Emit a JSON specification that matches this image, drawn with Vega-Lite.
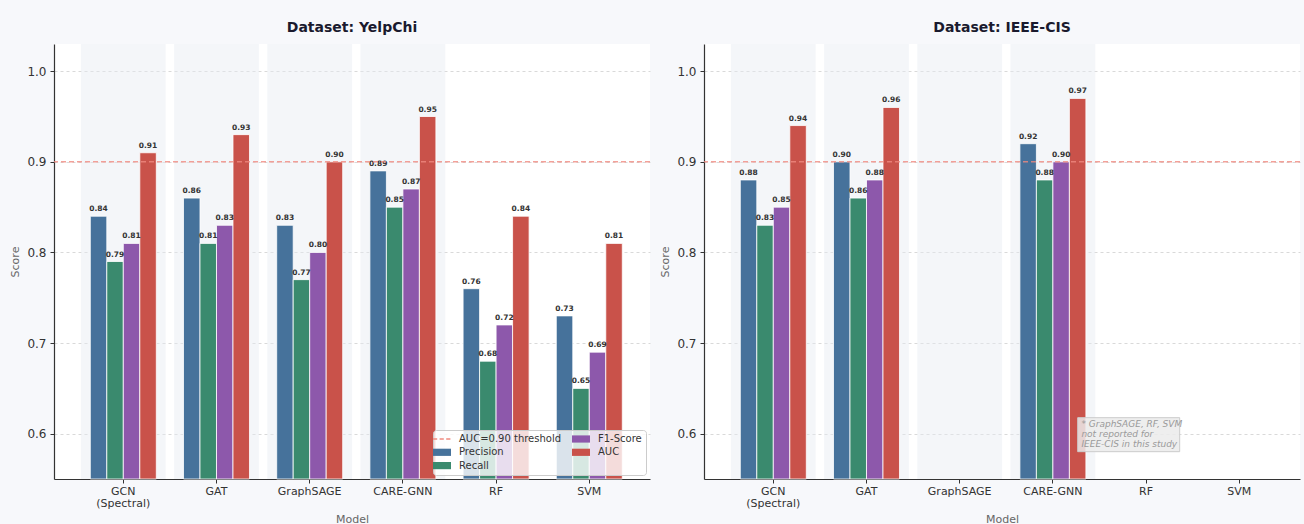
{
  "$schema": "https://vega.github.io/schema/vega-lite/v6.json",
  "background": "#f7f8fb",
  "padding": {"left": 9, "top": 21, "right": 4, "bottom": 0},
  "spacing": 8,
  "config": {
    "font": "DejaVu Sans",
    "view": {"stroke": null, "fill": "white"},
    "axis": {"domainColor": "#333333", "domainWidth": 1.2, "tickColor": "#333333", "labelColor": "#333333", "titleColor": "#666666", "titleFontWeight": "normal", "gridColor": "#cfcfcf", "gridDash": [3, 3], "gridOpacity": 0.8}
  },
  "datasets": {
    "scores": [
      {"dataset": "YelpChi", "model": "GCN (Spectral)", "metric": "Precision", "score": 0.84},
      {"dataset": "YelpChi", "model": "GCN (Spectral)", "metric": "Recall", "score": 0.79},
      {"dataset": "YelpChi", "model": "GCN (Spectral)", "metric": "F1-Score", "score": 0.81},
      {"dataset": "YelpChi", "model": "GCN (Spectral)", "metric": "AUC", "score": 0.91},
      {"dataset": "YelpChi", "model": "GAT", "metric": "Precision", "score": 0.86},
      {"dataset": "YelpChi", "model": "GAT", "metric": "Recall", "score": 0.81},
      {"dataset": "YelpChi", "model": "GAT", "metric": "F1-Score", "score": 0.83},
      {"dataset": "YelpChi", "model": "GAT", "metric": "AUC", "score": 0.93},
      {"dataset": "YelpChi", "model": "GraphSAGE", "metric": "Precision", "score": 0.83},
      {"dataset": "YelpChi", "model": "GraphSAGE", "metric": "Recall", "score": 0.77},
      {"dataset": "YelpChi", "model": "GraphSAGE", "metric": "F1-Score", "score": 0.80},
      {"dataset": "YelpChi", "model": "GraphSAGE", "metric": "AUC", "score": 0.90},
      {"dataset": "YelpChi", "model": "CARE-GNN", "metric": "Precision", "score": 0.89},
      {"dataset": "YelpChi", "model": "CARE-GNN", "metric": "Recall", "score": 0.85},
      {"dataset": "YelpChi", "model": "CARE-GNN", "metric": "F1-Score", "score": 0.87},
      {"dataset": "YelpChi", "model": "CARE-GNN", "metric": "AUC", "score": 0.95},
      {"dataset": "YelpChi", "model": "RF", "metric": "Precision", "score": 0.76},
      {"dataset": "YelpChi", "model": "RF", "metric": "Recall", "score": 0.68},
      {"dataset": "YelpChi", "model": "RF", "metric": "F1-Score", "score": 0.72},
      {"dataset": "YelpChi", "model": "RF", "metric": "AUC", "score": 0.84},
      {"dataset": "YelpChi", "model": "SVM", "metric": "Precision", "score": 0.73},
      {"dataset": "YelpChi", "model": "SVM", "metric": "Recall", "score": 0.65},
      {"dataset": "YelpChi", "model": "SVM", "metric": "F1-Score", "score": 0.69},
      {"dataset": "YelpChi", "model": "SVM", "metric": "AUC", "score": 0.81},
      {"dataset": "IEEE-CIS", "model": "GCN (Spectral)", "metric": "Precision", "score": 0.88},
      {"dataset": "IEEE-CIS", "model": "GCN (Spectral)", "metric": "Recall", "score": 0.83},
      {"dataset": "IEEE-CIS", "model": "GCN (Spectral)", "metric": "F1-Score", "score": 0.85},
      {"dataset": "IEEE-CIS", "model": "GCN (Spectral)", "metric": "AUC", "score": 0.94},
      {"dataset": "IEEE-CIS", "model": "GAT", "metric": "Precision", "score": 0.90},
      {"dataset": "IEEE-CIS", "model": "GAT", "metric": "Recall", "score": 0.86},
      {"dataset": "IEEE-CIS", "model": "GAT", "metric": "F1-Score", "score": 0.88},
      {"dataset": "IEEE-CIS", "model": "GAT", "metric": "AUC", "score": 0.96},
      {"dataset": "IEEE-CIS", "model": "CARE-GNN", "metric": "Precision", "score": 0.92},
      {"dataset": "IEEE-CIS", "model": "CARE-GNN", "metric": "Recall", "score": 0.88},
      {"dataset": "IEEE-CIS", "model": "CARE-GNN", "metric": "F1-Score", "score": 0.90},
      {"dataset": "IEEE-CIS", "model": "CARE-GNN", "metric": "AUC", "score": 0.97}
    ],
    "models": [
      {"model": "GCN (Spectral)", "family": "GNN"},
      {"model": "GAT", "family": "GNN"},
      {"model": "GraphSAGE", "family": "GNN"},
      {"model": "CARE-GNN", "family": "GNN"},
      {"model": "RF", "family": "Classical"},
      {"model": "SVM", "family": "Classical"}
    ],
    "threshold": [
      {"metric": "AUC=0.90 threshold", "score": 0.9}
    ],
    "notes": [
      {"dataset": "IEEE-CIS", "note": "GraphSAGE, RF, SVM not reported"}
    ]
  },
  "resolve": {"scale": {"color": "independent", "shape": "independent"}, "legend": {"color": "independent", "shape": "independent"}},
  "hconcat": [
    {
      "width": 596,
      "height": 435,
      "title": {"text": "Dataset: YelpChi", "fontSize": 14, "fontWeight": "bold", "color": "#1a1a2e", "offset": 9},
      "resolve": {"scale": {"color": "independent", "shape": "independent"}, "legend": {"color": "independent", "shape": "independent"}},
      "layer": [
        {
          "data": {"name": "models"},
          "transform": [{"filter": "datum.family === 'GNN'"}],
          "mark": {"type": "bar", "color": "#e6eaf1", "opacity": 0.45},
          "encoding": {
            "x": {"field": "model", "type": "nominal", "title": "Model",
              "scale": {"domain": ["GCN (Spectral)", "GAT", "GraphSAGE", "CARE-GNN", "RF", "SVM"], "paddingInner": 0.09, "paddingOuter": 0.2425, "align": 0.595},
              "axis": {"labelExpr": "datum.label === 'GCN (Spectral)' ? ['GCN', '(Spectral)'] : datum.label", "labelAngle": 0, "labelFontSize": 11, "labelLineHeight": 12.5, "tickSize": 4, "labelPadding": 2, "titleFontSize": 11, "titlePadding": 5, "grid": false}},
            "y": {"datum": 1.03, "type": "quantitative", "title": "Score",
              "scale": {"domain": [0.55, 1.03], "zero": false, "nice": false},
              "axis": {"values": [0.6, 0.7, 0.8, 0.9, 1.0], "format": ".1f", "labelFontSize": 12, "tickSize": 4, "labelPadding": 4, "titleFontSize": 11, "titlePadding": 6, "grid": true}},
            "y2": {"datum": 0.55}
          }
        },
        {
          "data": {"name": "scores"},
          "transform": [{"filter": "datum.dataset === 'YelpChi'"}],
          "mark": {"type": "bar", "stroke": "white", "strokeWidth": 0.8},
          "encoding": {
            "x": {"field": "model", "type": "nominal", "title": "Model"},
            "xOffset": {"field": "metric", "type": "nominal", "scale": {"domain": ["Precision", "Recall", "F1-Score", "AUC"], "paddingInner": 0, "paddingOuter": 0.57}},
            "y": {"field": "score", "type": "quantitative", "title": "Score"},
            "y2": {"datum": 0.55},
            "color": {"field": "metric", "type": "nominal",
              "scale": {"domain": ["Precision", "Recall", "F1-Score", "AUC"], "range": ["#46729b", "#3a8a6e", "#8d58ab", "#c9524a"]},
              "legend": null}
          }
        },
        {
          "data": {"name": "scores"},
          "transform": [{"filter": "datum.dataset === 'YelpChi'"}],
          "mark": {"type": "text", "fontSize": 7.5, "fontWeight": "bold", "color": "#333333", "baseline": "middle", "dy": -7},
          "encoding": {
            "x": {"field": "model", "type": "nominal", "title": "Model"},
            "xOffset": {"field": "metric", "type": "nominal"},
            "y": {"field": "score", "type": "quantitative", "title": "Score"},
            "text": {"field": "score", "type": "quantitative", "format": ".2f"}
          }
        },
        {
          "data": {"name": "threshold"},
          "mark": {"type": "rule", "strokeDash": [5, 3], "strokeWidth": 1.5, "opacity": 0.8, "color": "#f08a80"},
          "encoding": {
            "y": {"field": "score", "type": "quantitative", "title": "Score"}
          }
        },
        {
          "data": {"name": "scores"},
          "transform": [{"filter": "datum.dataset === 'YelpChi'"}],
          "mark": {"type": "point", "filled": true, "opacity": 1, "clip": true, "strokeWidth": 0},
          "encoding": {
            "x": {"field": "model", "type": "nominal", "title": "Model"},
            "y": {"datum": 0.4, "type": "quantitative", "title": "Score"},
            "color": {"field": "metric", "type": "nominal",
              "scale": {"domain": ["AUC=0.90 threshold", "Precision", "Recall", "F1-Score", "AUC"], "range": ["#f08a80", "#46729b", "#3a8a6e", "#8d58ab", "#c9524a"]},
              "legend": {"title": null, "orient": "bottom-right", "offset": 4, "columns": 2, "columnPadding": 10, "rowPadding": 3.3, "labelFontSize": 10, "labelColor": "#333333", "labelOffset": 12, "symbolSize": 64, "symbolStrokeWidth": 0, "symbolOpacity": 1, "padding": 4, "fillColor": "rgba(255,255,255,0.8)", "strokeColor": "#cccccc", "cornerRadius": 3}},
            "shape": {"field": "metric", "type": "nominal",
              "scale": {"domain": ["AUC=0.90 threshold", "Precision", "Recall", "F1-Score", "AUC"], "range": [
                "M-2.25,-0.2H-1.2V0.2H-2.25Z M-0.6,-0.2H0.45V0.2H-0.6Z M1.05,-0.2H2.1V0.2H1.05Z",
                "M-2.25,-0.9H2.25V0.9H-2.25Z",
                "M-2.25,-0.9H2.25V0.9H-2.25Z",
                "M-2.25,-0.9H2.25V0.9H-2.25Z",
                "M-2.25,-0.9H2.25V0.9H-2.25Z"]},
              "legend": {"title": null, "orient": "bottom-right", "offset": 4, "columns": 2, "columnPadding": 10, "rowPadding": 3.3, "labelFontSize": 10, "labelColor": "#333333", "labelOffset": 12, "symbolSize": 64, "symbolStrokeWidth": 0, "symbolOpacity": 1, "padding": 4, "fillColor": "rgba(255,255,255,0.8)", "strokeColor": "#cccccc", "cornerRadius": 3}}
          }
        }
      ]
    },
    {
      "width": 596,
      "height": 435,
      "title": {"text": "Dataset: IEEE-CIS", "fontSize": 14, "fontWeight": "bold", "color": "#1a1a2e", "offset": 9},
      "layer": [
        {
          "data": {"name": "models"},
          "transform": [{"filter": "datum.family === 'GNN'"}],
          "mark": {"type": "bar", "color": "#e6eaf1", "opacity": 0.45},
          "encoding": {
            "x": {"field": "model", "type": "nominal", "title": "Model",
              "scale": {"domain": ["GCN (Spectral)", "GAT", "GraphSAGE", "CARE-GNN", "RF", "SVM"], "paddingInner": 0.09, "paddingOuter": 0.2425, "align": 0.595},
              "axis": {"labelExpr": "datum.label === 'GCN (Spectral)' ? ['GCN', '(Spectral)'] : datum.label", "labelAngle": 0, "labelFontSize": 11, "labelLineHeight": 12.5, "tickSize": 4, "labelPadding": 2, "titleFontSize": 11, "titlePadding": 5, "grid": false}},
            "y": {"datum": 1.03, "type": "quantitative", "title": "Score",
              "scale": {"domain": [0.55, 1.03], "zero": false, "nice": false},
              "axis": {"values": [0.6, 0.7, 0.8, 0.9, 1.0], "format": ".1f", "labelFontSize": 12, "tickSize": 4, "labelPadding": 4, "titleFontSize": 11, "titlePadding": 6, "grid": true}},
            "y2": {"datum": 0.55}
          }
        },
        {
          "data": {"name": "scores"},
          "transform": [{"filter": "datum.dataset === 'IEEE-CIS'"}],
          "mark": {"type": "bar", "stroke": "white", "strokeWidth": 0.8},
          "encoding": {
            "x": {"field": "model", "type": "nominal", "title": "Model"},
            "xOffset": {"field": "metric", "type": "nominal", "scale": {"domain": ["Precision", "Recall", "F1-Score", "AUC"], "paddingInner": 0, "paddingOuter": 0.57}},
            "y": {"field": "score", "type": "quantitative", "title": "Score"},
            "y2": {"datum": 0.55},
            "color": {"field": "metric", "type": "nominal",
              "scale": {"domain": ["Precision", "Recall", "F1-Score", "AUC"], "range": ["#46729b", "#3a8a6e", "#8d58ab", "#c9524a"]},
              "legend": null}
          }
        },
        {
          "data": {"name": "scores"},
          "transform": [{"filter": "datum.dataset === 'IEEE-CIS'"}],
          "mark": {"type": "text", "fontSize": 7.5, "fontWeight": "bold", "color": "#333333", "baseline": "middle", "dy": -7},
          "encoding": {
            "x": {"field": "model", "type": "nominal", "title": "Model"},
            "xOffset": {"field": "metric", "type": "nominal"},
            "y": {"field": "score", "type": "quantitative", "title": "Score"},
            "text": {"field": "score", "type": "quantitative", "format": ".2f"}
          }
        },
        {
          "data": {"name": "threshold"},
          "mark": {"type": "rule", "strokeDash": [5, 3], "strokeWidth": 1.5, "opacity": 0.8, "color": "#f08a80"},
          "encoding": {
            "y": {"field": "score", "type": "quantitative", "title": "Score"}
          }
        },
        {
          "data": {"name": "notes"},
          "mark": {"type": "point", "shape": "M-0.977,-0.229H0.48V0.257H-0.977Z", "size": 19600, "filled": true, "fill": "#ebebeb", "fillOpacity": 0.85, "stroke": "#cccccc", "strokeWidth": 1, "opacity": 1},
          "encoding": {
            "x": {"datum": "RF", "type": "nominal"},
            "y": {"datum": 0.6, "type": "quantitative"}
          }
        },
        {
          "data": {"name": "notes"},
          "mark": {"type": "text", "text": ["* GraphSAGE, RF, SVM", "not reported for", "IEEE-CIS in this study"], "align": "left", "baseline": "top", "dx": -64.7, "dy": -14, "fontSize": 9, "fontStyle": "italic", "color": "#9a9a9a", "lineHeight": 10},
          "encoding": {
            "x": {"datum": "RF", "type": "nominal"},
            "y": {"datum": 0.6, "type": "quantitative"}
          }
        }
      ]
    }
  ]
}
